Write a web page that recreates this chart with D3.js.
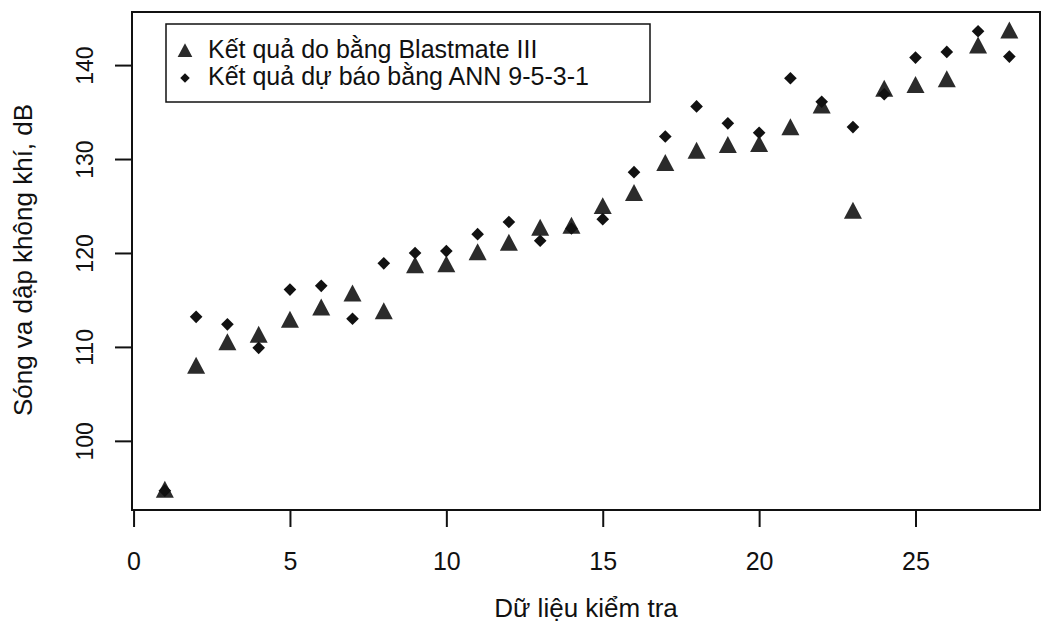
<!DOCTYPE html>
<html>
<head>
<meta charset="utf-8">
<script src="https://cdn.jsdelivr.net/npm/d3@7"></script>
<style>
body { margin: 0; background: #fff; }
text { font-family: "Liberation Sans", Arial, sans-serif; fill: #111; }
</style>
</head>
<body>
<div id="chart"></div>
<script>
var width = 1041;
var height = 623;

// test sample number
var testNo = [1, 2, 3, 4, 5, 6, 7, 8, 9, 10, 11, 12, 13, 14,
              15, 16, 17, 18, 19, 20, 21, 22, 23, 24, 25, 26, 27, 28];
// measured with Blastmate III (triangles)
var measured = [94.6, 107.8, 110.3, 111.1, 112.7, 114.0, 115.5, 113.6, 118.5, 118.6,
                119.9, 120.9, 122.5, 122.7, 124.8, 126.2, 129.4, 130.7, 131.3, 131.4,
                133.2, 135.5, 124.3, 137.3, 137.7, 138.3, 141.9, 143.5];
// predicted by ANN 9-5-3-1 (diamonds)
var predicted = [94.7, 113.2, 112.4, 109.9, 116.1, 116.5, 113.0, 118.9, 120.0, 120.2,
                 122.0, 123.3, 121.3, 122.6, 123.6, 128.6, 132.4, 135.6, 133.8, 132.8,
                 138.6, 136.1, 133.4, 136.9, 140.8, 141.4, 143.6, 140.9];

var xTicks = [0, 5, 10, 15, 20, 25];
var yTicks = [100, 110, 120, 130, 140];
var legendLabels = ["Kết quả do bằng Blastmate III", "Kết quả dự báo bằng ANN 9-5-3-1"];

var svg = d3.select("#chart")
            .append("svg")
            .attr("width", width)
            .attr("height", height);

var xScale = d3.scaleLinear().domain([-0.05, 28.98]).range([132, 1040]);
var yScale = d3.scaleLinear().domain([92.64, 145.65]).range([510, 12]);

// symbols like R pch 17 / pch 18
var triangle = {
  draw: function(ctx, size) {
    var r = Math.sqrt(size);
    ctx.moveTo(0, -r * 0.62);
    ctx.lineTo(r * 0.52, r * 0.36);
    ctx.lineTo(-r * 0.52, r * 0.36);
    ctx.closePath();
  }
};
var diamond = {
  draw: function(ctx, size) {
    var r = Math.sqrt(size) / 2;
    ctx.moveTo(0, -r);
    ctx.lineTo(r, 0);
    ctx.lineTo(0, r);
    ctx.lineTo(-r, 0);
    ctx.closePath();
  }
};

// axes
var xAxis = d3.axisBottom(xScale).tickValues(xTicks).tickSize(17).tickPadding(25);
var yAxis = d3.axisLeft(yScale).tickValues(yTicks).tickSize(17);

var gx = svg.append("g")
    .attr("transform", "translate(0," + yScale.range()[0] + ")")
    .call(xAxis);
gx.select(".domain").remove();
gx.selectAll(".tick line").attr("stroke", "#111").attr("stroke-width", 2);
gx.selectAll(".tick text").style("font-size", "25px").attr("fill", "#111");

var gy = svg.append("g")
    .attr("transform", "translate(" + xScale.range()[0] + ",0)")
    .call(yAxis);
gy.select(".domain").remove();
gy.selectAll(".tick line").attr("stroke", "#111").attr("stroke-width", 2);
gy.selectAll(".tick text")
    .attr("x", 0).attr("y", -39).attr("dy", null)
    .attr("transform", "rotate(-90)")
    .style("text-anchor", "middle")
    .style("font-size", "23px")
    .attr("fill", "#111");

// plot frame
svg.append("rect")
    .attr("x", xScale.range()[0])
    .attr("y", yScale.range()[1])
    .attr("width", xScale.range()[1] - xScale.range()[0])
    .attr("height", yScale.range()[0] - yScale.range()[1])
    .attr("fill", "none")
    .attr("stroke", "#111")
    .attr("stroke-width", 2);

// points
svg.selectAll("path.meas")
   .data(measured)
   .enter()
   .append("path")
   .attr("class", "meas")
   .attr("d", d3.symbol().type(triangle).size(300))
   .attr("transform", function(d, i) { return "translate(" + xScale(testNo[i]) + "," + yScale(d) + ")"; })
   .attr("fill", "#2b2b2b");

svg.selectAll("path.pred")
   .data(predicted)
   .enter()
   .append("path")
   .attr("class", "pred")
   .attr("d", d3.symbol().type(diamond).size(160))
   .attr("transform", function(d, i) { return "translate(" + xScale(testNo[i]) + "," + yScale(d) + ")"; })
   .attr("fill", "#111");

// legend
var legend = svg.append("g");
legend.append("rect")
    .attr("x", 166).attr("y", 24)
    .attr("width", 484).attr("height", 78)
    .attr("fill", "#fff")
    .attr("stroke", "#111")
    .attr("stroke-width", 1.5);
legend.append("path")
    .attr("d", d3.symbol().type(triangle).size(200))
    .attr("transform", "translate(185,52)")
    .attr("fill", "#2b2b2b");
legend.append("path")
    .attr("d", d3.symbol().type(diamond).size(90))
    .attr("transform", "translate(185,78)")
    .attr("fill", "#111");
legend.selectAll("text.lab")
    .data(legendLabels)
    .enter()
    .append("text")
    .attr("class", "lab")
    .attr("x", 208)
    .attr("y", function(d, i) { return 58 + i * 27; })
    .style("font-size", "25px")
    .text(function(d) { return d; });

// axis titles
svg.append("text")
    .attr("x", (xScale.range()[0] + xScale.range()[1]) / 2)
    .attr("y", 617)
    .style("text-anchor", "middle")
    .style("font-size", "26px")
    .text("Dữ liệu kiểm tra");

svg.append("text")
    .attr("transform", "translate(32,260) rotate(-90)")
    .style("text-anchor", "middle")
    .style("font-size", "26px")
    .text("Sóng va dập không khí, dB");
</script>
</body>
</html>
